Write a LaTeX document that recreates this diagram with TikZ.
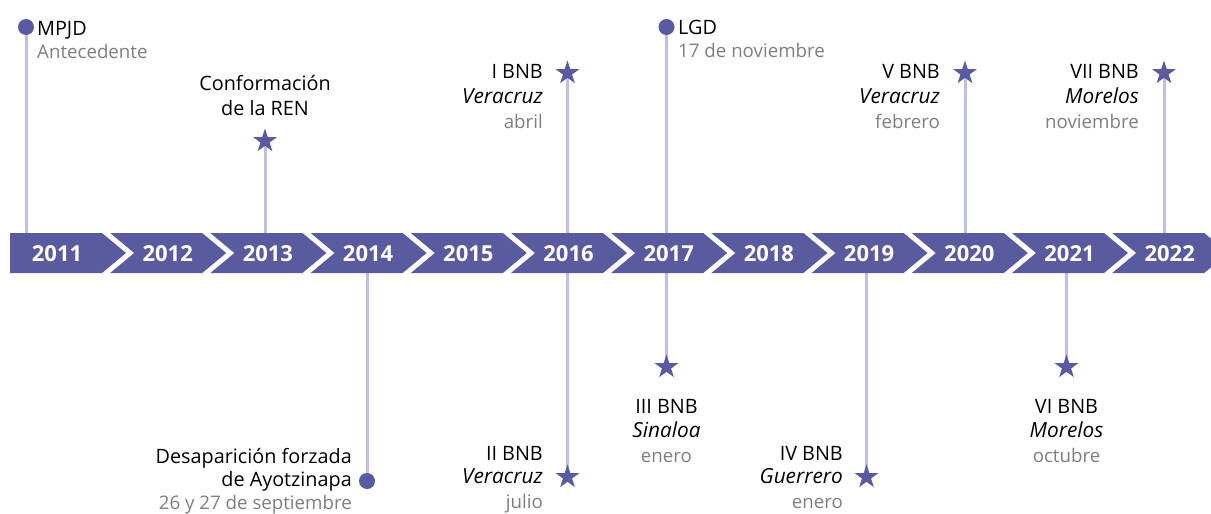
\documentclass[tikz,border=0pt]{standalone}
\usepackage{fontspec}
\setmainfont{Open Sans}
\usetikzlibrary{shapes.geometric,backgrounds}
\definecolor{bandc}{HTML}{5A5A9E}
\definecolor{linec}{HTML}{C0BEE2}
\definecolor{grayc}{HTML}{7F7F7F}
\tikzset{
  txt/.style={font=\fontsize{19.8}{22}\selectfont, inner sep=0pt, text=black},
  gtxt/.style={font=\fontsize{18.7}{22}\selectfont, inner sep=0pt, text=grayc},
  itxt/.style={font=\fontsize{20.8}{22}\selectfont\itshape, inner sep=0pt, text=black},
  yr/.style={font=\fontsize{22}{24}\selectfont\bfseries, text=white, inner sep=0pt, anchor=base},
  conn/.style={draw=linec, line width=3pt},
  dotm/.style={circle, fill=bandc, minimum size=16pt, inner sep=0pt},
  starm/.style={star, star points=5, star point ratio=2.6, fill=bandc, minimum size=25pt, inner sep=0pt},
  segm/.style={fill=bandc},
}
\begin{document}
\begin{tikzpicture}[x=1pt,y=-1pt]
\clip (0,0) rectangle (1211,514);
% band
\fill[segm] (10,233) -- (102,233) -- (126,253) -- (102,273) -- (10,273) -- cycle;
\foreach \i in {1,...,11}{
  \pgfmathsetmacro{\a}{10+100.2*\i}
  \fill[segm] (\a,233) -- (\a+92,233) -- (\a+116,253) -- (\a+92,273) -- (\a,273) -- (\a+24,253) -- cycle;
}
\node[yr] (y2011) at (57,261) {2011};
\foreach \i/\yy in {1/2012,2/2013,3/2014,4/2015,5/2016,6/2017,7/2018,8/2019,9/2020,10/2021,11/2022}{
  \pgfmathsetmacro{\c}{10+100.2*\i+57.5}
  \node[yr] (y\yy) at (\c,261) {\yy};
}
% band edge coordinates
\coordinate (t2011) at (26,233);
\coordinate (t2013) at (265,233);
\coordinate (b2014) at (367,273);
\coordinate (t2016) at (567.5,233);
\coordinate (b2016) at (567.5,273);
\coordinate (t2017) at (666.5,233);
\coordinate (b2017) at (666.5,273);
\coordinate (b2019) at (866.5,273);
\coordinate (t2020) at (965,233);
\coordinate (b2021) at (1066.5,273);
\coordinate (t2022) at (1164,233);
% markers
\node[dotm] (d2011) at (26,27) {};
\node[dotm] (d2017) at (666.5,27) {};
\node[dotm] (d2014) at (367,481) {};
\node[starm] (s2013) at (265,141) {};
\node[starm] (s2016t) at (567.5,73) {};
\node[starm] (s2016b) at (567.5,477) {};
\node[starm] (s2017) at (666.5,367) {};
\node[starm] (s2019) at (866.5,477) {};
\node[starm] (s2020) at (965,73) {};
\node[starm] (s2021) at (1066.5,367) {};
\node[starm] (s2022) at (1164,73) {};
% connectors
\begin{scope}[on background layer]
\fill[white] (0,0) rectangle (1211,514);
\draw[conn] (d2011.center) -- (t2011);
\draw[conn] (s2013.center) -- (t2013);
\draw[conn] (b2014) -- (d2014.center);
\draw[conn] (s2016t.center) -- (t2016);
\draw[conn] (b2016) -- (s2016b.center);
\draw[conn] (d2017.center) -- (t2017);
\draw[conn] (b2017) -- (s2017.center);
\draw[conn] (b2019) -- (s2019.center);
\draw[conn] (s2020.center) -- (t2020);
\draw[conn] (b2021) -- (s2021.center);
\draw[conn] (s2022.center) -- (t2022);
\end{scope}
% texts
\node[txt, anchor=base west] (mpjd) at (37,35) {MPJD};
\node[gtxt, anchor=base west] (mpjdd) at (37,58) {Antecedente};
\node[txt, anchor=base] (ren1) at (265,90) {Conformación};
\node[txt, anchor=base] (ren2) at (265,115) {de la REN};
\node[txt, anchor=base east] (ay1) at (352,463) {Desaparición forzada};
\node[txt, anchor=base east] (ay2) at (352,486) {de Ayotzinapa};
\node[gtxt, anchor=base east] (ay3) at (352,509) {26 y 27 de septiembre};
\node[txt, anchor=base east] (b1a) at (543,78) {I BNB};
\node[itxt, anchor=base east] (b1b) at (543,103) {Veracruz};
\node[gtxt, anchor=base east] (b1c) at (543,128) {abril};
\node[txt, anchor=base east] (b2a) at (543,460) {II BNB};
\node[itxt, anchor=base east] (b2b) at (543,483) {Veracruz};
\node[gtxt, anchor=base east] (b2c) at (543,508) {julio};
\node[txt, anchor=base west] (lgd) at (678,34.5) {LGD};
\node[gtxt, anchor=base west] (lgdd) at (678,57) {17 de noviembre};
\node[txt, anchor=base] (b3a) at (666.5,413) {III BNB};
\node[itxt, anchor=base] (b3b) at (666.5,437) {Sinaloa};
\node[gtxt, anchor=base] (b3c) at (666.5,462) {enero};
\node[txt, anchor=base east] (b4a) at (843,460) {IV BNB};
\node[itxt, anchor=base east] (b4b) at (843,483) {Guerrero};
\node[gtxt, anchor=base east] (b4c) at (843,508) {enero};
\node[txt, anchor=base east] (b5a) at (940,78) {V BNB};
\node[itxt, anchor=base east] (b5b) at (940,103) {Veracruz};
\node[gtxt, anchor=base east] (b5c) at (940,128) {febrero};
\node[txt, anchor=base] (b6a) at (1066.5,413) {VI BNB};
\node[itxt, anchor=base] (b6b) at (1066.5,437) {Morelos};
\node[gtxt, anchor=base] (b6c) at (1066.5,462) {octubre};
\node[txt, anchor=base east] (b7a) at (1139,78) {VII BNB};
\node[itxt, anchor=base east] (b7b) at (1139,103) {Morelos};
\node[gtxt, anchor=base east] (b7c) at (1139,128) {noviembre};
\end{tikzpicture}
\end{document}
